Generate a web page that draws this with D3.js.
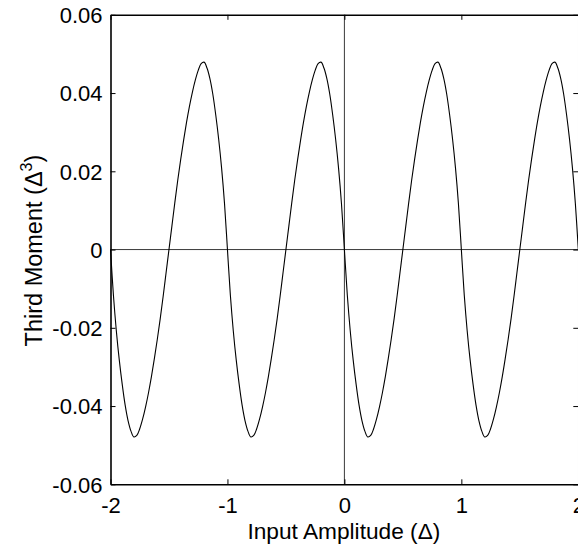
<!DOCTYPE html>
<html>
<head>
<meta charset="utf-8">
<script src="https://cdn.jsdelivr.net/npm/d3@7/dist/d3.min.js"></script>
<style>
  html, body { margin: 0; padding: 0; background: #fff; }
  svg { display: block; }
  text { font-family: "Liberation Sans", Arial, Helvetica, sans-serif; fill: #000; }
</style>
</head>
<body>
<svg id="chart" width="578" height="546"></svg>
<script>
// ---- data ----
const amplitude = [
  -2.000,-1.975,-1.950,-1.925,-1.900,-1.875,-1.850,-1.825,-1.800,-1.775,-1.750,-1.725,-1.700,-1.675,-1.650,-1.625,-1.600,-1.575,-1.550,-1.525,
  -1.500,-1.475,-1.450,-1.425,-1.400,-1.375,-1.350,-1.325,-1.300,-1.275,-1.250,-1.225,-1.200,-1.175,-1.150,-1.125,-1.100,-1.075,-1.050,-1.025,
  -1.000,-0.975,-0.950,-0.925,-0.900,-0.875,-0.850,-0.825,-0.800,-0.775,-0.750,-0.725,-0.700,-0.675,-0.650,-0.625,-0.600,-0.575,-0.550,-0.525,
  -0.500,-0.475,-0.450,-0.425,-0.400,-0.375,-0.350,-0.325,-0.300,-0.275,-0.250,-0.225,-0.200,-0.175,-0.150,-0.125,-0.100,-0.075,-0.050,-0.025,
   0.000, 0.025, 0.050, 0.075, 0.100, 0.125, 0.150, 0.175, 0.200, 0.225, 0.250, 0.275, 0.300, 0.325, 0.350, 0.375, 0.400, 0.425, 0.450, 0.475,
   0.500, 0.525, 0.550, 0.575, 0.600, 0.625, 0.650, 0.675, 0.700, 0.725, 0.750, 0.775, 0.800, 0.825, 0.850, 0.875, 0.900, 0.925, 0.950, 0.975,
   1.000, 1.025, 1.050, 1.075, 1.100, 1.125, 1.150, 1.175, 1.200, 1.225, 1.250, 1.275, 1.300, 1.325, 1.350, 1.375, 1.400, 1.425, 1.450, 1.475,
   1.500, 1.525, 1.550, 1.575, 1.600, 1.625, 1.650, 1.675, 1.700, 1.725, 1.750, 1.775, 1.800, 1.825, 1.850, 1.875, 1.900, 1.925, 1.950, 1.975,
   2.000
];
const thirdMoment = [
   0,-0.0117,-0.0208,-0.0282,-0.0344,-0.0397,-0.0437,-0.0464,-0.0479,-0.0475,-0.0458,-0.0433,-0.0402,-0.0366,-0.0325,-0.0279,-0.0230,-0.0177,-0.0120,-0.0060,
   0, 0.0060, 0.0120, 0.0177, 0.0230, 0.0279, 0.0325, 0.0366, 0.0402, 0.0433, 0.0458, 0.0475, 0.0479, 0.0464, 0.0437, 0.0397, 0.0344, 0.0282, 0.0208, 0.0117,
   0,-0.0117,-0.0208,-0.0282,-0.0344,-0.0397,-0.0437,-0.0464,-0.0479,-0.0475,-0.0458,-0.0433,-0.0402,-0.0366,-0.0325,-0.0279,-0.0230,-0.0177,-0.0120,-0.0060,
   0, 0.0060, 0.0120, 0.0177, 0.0230, 0.0279, 0.0325, 0.0366, 0.0402, 0.0433, 0.0458, 0.0475, 0.0479, 0.0464, 0.0437, 0.0397, 0.0344, 0.0282, 0.0208, 0.0117,
   0,-0.0117,-0.0208,-0.0282,-0.0344,-0.0397,-0.0437,-0.0464,-0.0479,-0.0475,-0.0458,-0.0433,-0.0402,-0.0366,-0.0325,-0.0279,-0.0230,-0.0177,-0.0120,-0.0060,
   0, 0.0060, 0.0120, 0.0177, 0.0230, 0.0279, 0.0325, 0.0366, 0.0402, 0.0433, 0.0458, 0.0475, 0.0479, 0.0464, 0.0437, 0.0397, 0.0344, 0.0282, 0.0208, 0.0117,
   0,-0.0117,-0.0208,-0.0282,-0.0344,-0.0397,-0.0437,-0.0464,-0.0479,-0.0475,-0.0458,-0.0433,-0.0402,-0.0366,-0.0325,-0.0279,-0.0230,-0.0177,-0.0120,-0.0060,
   0, 0.0060, 0.0120, 0.0177, 0.0230, 0.0279, 0.0325, 0.0366, 0.0402, 0.0433, 0.0458, 0.0475, 0.0479, 0.0464, 0.0437, 0.0397, 0.0344, 0.0282, 0.0208, 0.0117,
   0
];
const xTicks = [-2, -1, 0, 1, 2];
const xTickLabels = ["-2", "-1", "0", "1", "2"];
const yTicks = [-0.06, -0.04, -0.02, 0, 0.02, 0.04, 0.06];
const yTickLabels = ["-0.06", "-0.04", "-0.02", "0", "0.02", "0.04", "0.06"];
const xLabel = "Input Amplitude (\u0394)";
const yLabelMain = "Third Moment (\u0394";
const yLabelSup = "3";
const yLabelEnd = ")";

// ---- layout ----
const svg = d3.select("#chart");
const plotL = 110.5, plotR = 578.3, plotT = 14.8, plotB = 484.3;
const x = d3.scaleLinear().domain([-2, 2]).range([plotL, plotR]);
const y = d3.scaleLinear().domain([-0.06, 0.06]).range([plotB, plotT]);
const tickLen = 5;
const fs = 22;

// zero reference lines
svg.append("line").attr("x1", plotL).attr("x2", plotR).attr("y1", y(0)).attr("y2", y(0))
  .attr("stroke", "#3a3a3a").attr("stroke-width", 1);
svg.append("line").attr("x1", x(0)).attr("x2", x(0)).attr("y1", plotT).attr("y2", plotB)
  .attr("stroke", "#3a3a3a").attr("stroke-width", 1);

// curve
const pts = amplitude.map((a, i) => [a, thirdMoment[i]]);
svg.append("path").datum(pts)
  .attr("fill", "none").attr("stroke", "#000").attr("stroke-width", 1.1)
  .attr("d", d3.line().x(d => x(d[0])).y(d => y(d[1])).curve(d3.curveCatmullRom.alpha(0.5)));

// axes (ticks inward on all four sides)
const axBottom = d3.axisBottom(x).tickValues(xTicks).tickSizeInner(-tickLen).tickSizeOuter(0)
  .tickFormat((d, i) => xTickLabels[i]).tickPadding(10);
const gB = svg.append("g").attr("transform", `translate(0,${plotB})`).call(axBottom);
const axTop = d3.axisTop(x).tickValues(xTicks).tickSizeInner(-tickLen).tickSizeOuter(0).tickFormat("");
const gT = svg.append("g").attr("transform", `translate(0,${plotT})`).call(axTop);
const axLeft = d3.axisLeft(y).tickValues(yTicks).tickSizeInner(-tickLen).tickSizeOuter(0)
  .tickFormat((d, i) => yTickLabels[i]).tickPadding(8);
const gL = svg.append("g").attr("transform", `translate(${plotL},0)`).call(axLeft);
const axRight = d3.axisRight(y).tickValues(yTicks).tickSizeInner(-tickLen).tickSizeOuter(0).tickFormat("");
const gR = svg.append("g").attr("transform", `translate(${plotR},0)`).call(axRight);

[gB, gT, gL, gR].forEach(g => {
  g.select(".domain").attr("stroke", "#000").attr("stroke-width", 1.6);
  g.selectAll(".tick line").attr("stroke", "#000").attr("stroke-width", 1);
  g.selectAll("text").attr("font-family", "Liberation Sans, Arial, sans-serif").attr("font-size", fs).attr("fill", "#000");
});
gB.selectAll("text").attr("dy", "0.71em").attr("y", 13);
gL.selectAll("text").attr("x", -8).attr("dy", "0.35em");

// axis labels
svg.append("text").attr("x", (plotL + plotR) / 2 - 0.5).attr("y", 539)
  .attr("text-anchor", "middle").attr("font-size", 22.7).text(xLabel);

const yl = svg.append("text")
  .attr("transform", `translate(41.5,${(plotT + plotB) / 2 + 1}) rotate(-90)`)
  .attr("text-anchor", "middle").attr("font-size", 23.5);
yl.append("tspan").text(yLabelMain);
yl.append("tspan").attr("font-size", 16).attr("dy", -10).text(yLabelSup);
yl.append("tspan").attr("dy", 10).text(yLabelEnd);
</script>
</body>
</html>
